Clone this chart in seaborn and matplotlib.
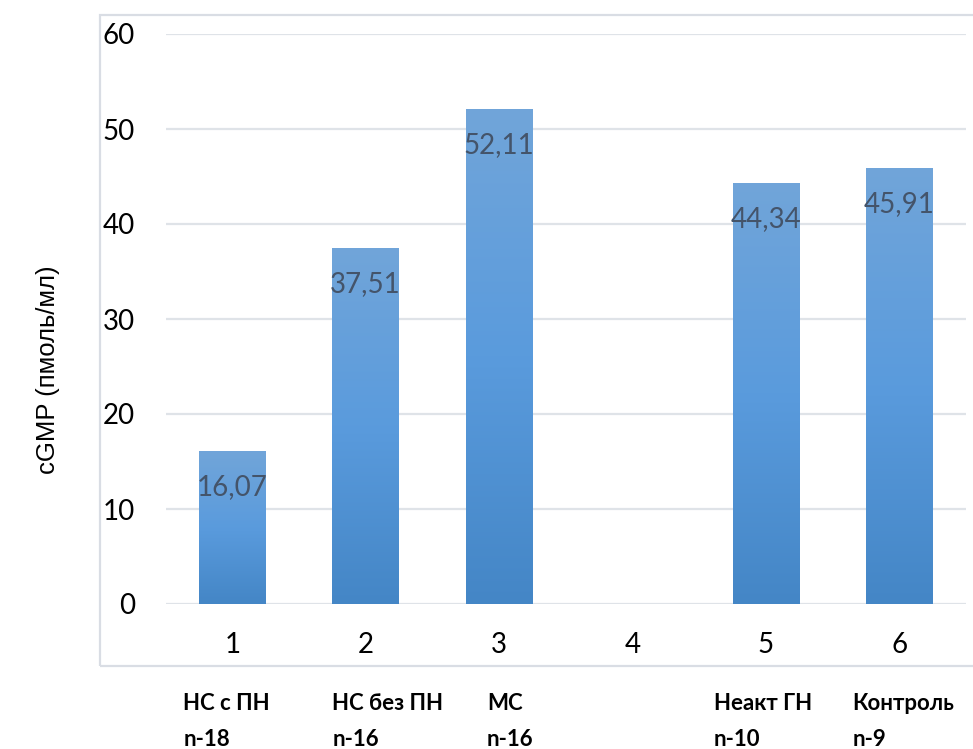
import numpy as np
import pandas as pd
import matplotlib
matplotlib.use("Agg")
import matplotlib.pyplot as plt
import seaborn as sns
from matplotlib.patches import Rectangle
from matplotlib.colors import LinearSegmentedColormap

# Data
categories = ["1", "2", "3", "4", "5", "6"]
values = [16.07, 37.51, 52.11, np.nan, 44.34, 45.91]
group_names = ["НС с ПН", "НС без ПН", "МС", "", "Неакт ГН", "Контроль"]
group_sizes = ["n-18", "n-16", "n-16", "", "n-10", "n-9"]
y_ticks = [0, 10, 20, 30, 40, 50, 60]

sns.set_theme(style="white")
plt.rcParams["font.family"] = ["Lato", "DejaVu Sans"]

W, H = 973, 749
fig = plt.figure(figsize=(W / 100, H / 100), dpi=100)
ax = fig.add_axes([165.6 / W, 1 - 604 / H, (966 - 165.6) / W, (604 - 34) / H])

df = pd.DataFrame({"group": categories, "value": values})
sns.barplot(data=df, x="group", y="value", color="#5b9bd5", width=0.5,
            saturation=1, ax=ax, zorder=2)

ax.set_ylim(0, 60)
ax.set_xlim(-0.5, len(categories) - 0.5)
ax.set_yticks(y_ticks)
ax.set_yticklabels([str(t) for t in y_ticks])
ax.set_xlabel("")
ax.set_ylabel("")
for s in ax.spines.values():
    s.set_visible(False)
ax.yaxis.grid(True, color="#dfe3e8", linewidth=1.6, zorder=0)
ax.set_axisbelow(True)
ax.tick_params(axis="y", length=0, pad=22, labelsize=20, labelcolor="#000000")
ax.tick_params(axis="x", length=0, pad=20, labelsize=20, labelcolor="#000000")

# vertical gradient fill for each bar
cmap = LinearSegmentedColormap.from_list(
    "bar", ["#4486c6", "#5a9bdd", "#71a5d9"])
grad = np.linspace(0, 1, 256).reshape(-1, 1)
for p in list(ax.patches):
    h = p.get_height()
    if not np.isfinite(h) or h <= 0:
        continue
    x0 = p.get_x()
    w = p.get_width()
    p.set_facecolor("none")
    p.set_edgecolor("none")
    im = ax.imshow(grad, cmap=cmap, origin="lower", aspect="auto",
                   extent=[x0, x0 + w, 0, h], zorder=2)
    im.set_clip_path(Rectangle((x0, 0), w, h, transform=ax.transData))
ax.set_xlim(-0.5, len(categories) - 0.5)
ax.set_ylim(0, 60)

# value labels inside the top of each bar
for i, v in enumerate(values):
    if np.isfinite(v):
        ax.annotate(f"{v:.2f}".replace(".", ","), xy=(i, v),
                    xytext=(0, -26), textcoords="offset points",
                    ha="center", va="center", fontsize=20,
                    color="#44546a", zorder=5)

# group names under the axis
name_x = [-0.367, 0.75, 1.91, None, 3.61, 4.65]
trans = matplotlib.transforms.blended_transform_factory(ax.transData, fig.transFigure)
for x, nm, n in zip(name_x, group_names, group_sizes):
    if x is None:
        continue
    ax.text(x, 1 - 703 / H, nm, transform=trans, ha="left", va="center",
            fontsize=16, fontweight="bold", color="#000000", clip_on=False)
    ax.text(x, 1 - 740 / H, n, transform=trans, ha="left", va="center",
            fontsize=16, fontweight="bold", color="#000000", clip_on=False)

# outer chart frame
frame = Rectangle((100 / W, 1 - 666 / H), 1.0, (666 - 15) / H,
                  transform=fig.transFigure, fill=False,
                  edgecolor="#d9dde4", linewidth=1.6, zorder=0)
fig.patches.append(frame)

fig.text(48 / W, 1 - 370 / H, "cGMP (пмоль/мл)", rotation=90,
         ha="center", va="center", fontsize=18.5,
         family=["Liberation Sans", "DejaVu Sans"], color="#000000")

fig.savefig("out.png", dpi=100)
